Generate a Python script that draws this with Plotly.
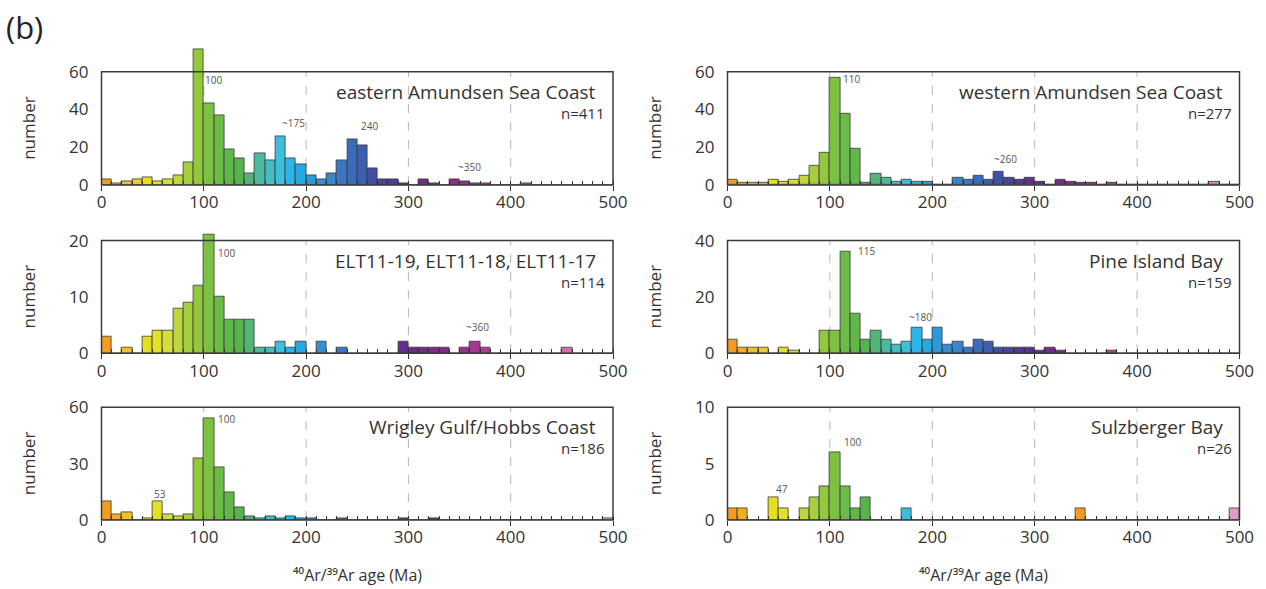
import plotly.graph_objects as go

# ---------------- data (10 Ma bins, 0-500 Ma) ----------------
bin_starts = list(range(0, 500, 10))

east_amundsen = [3, 1, 2, 3, 4, 2, 3, 5, 12, 72,
                 43, 37, 19, 14, 6, 17, 13, 26, 14, 11,
                 5, 3, 6, 13, 24, 21, 9, 3, 3, 1,
                 0, 3, 1, 0, 3, 2, 1, 1, 0, 0,
                 0, 1, 0, 0, 0, 0, 0, 0, 0, 0]
west_amundsen = [3, 1, 1, 1, 3, 2, 3, 5, 10, 17,
                 57, 38, 19, 1, 6, 4, 2, 3, 2, 2,
                 0, 0, 4, 3, 5, 3, 7, 4, 3, 4,
                 2, 0, 3, 2, 1, 1, 0, 1, 0, 0,
                 0, 0, 0, 0, 0, 0, 0, 2, 0, 0]
elt11 = [3, 0, 1, 0, 3, 4, 4, 8, 9, 12,
         21, 10, 6, 6, 6, 1, 1, 2, 1, 2,
         0, 2, 0, 1, 0, 0, 0, 0, 0, 2,
         1, 1, 1, 1, 0, 1, 2, 1, 0, 0,
         0, 0, 0, 0, 0, 1, 0, 0, 0, 0]
pine_island = [5, 2, 2, 2, 0, 2, 1, 0, 0, 8,
               8, 36, 14, 5, 8, 5, 3, 4, 9, 5,
               9, 3, 4, 2, 5, 4, 2, 2, 2, 2,
               1, 2, 1, 0, 0, 0, 0, 1, 0, 0,
               0, 0, 0, 0, 0, 0, 0, 0, 0, 0]
wrigley = [10, 3, 4, 0, 1, 10, 3, 2, 3, 33,
           54, 28, 15, 7, 2, 1, 2, 1, 2, 1,
           1, 0, 0, 1, 0, 0, 0, 0, 0, 1,
           0, 0, 1, 0, 0, 0, 0, 0, 0, 0,
           0, 0, 0, 0, 0, 0, 0, 0, 0, 1]
sulzberger = [1, 1, 0, 0, 2, 1, 0, 1, 2, 3,
              6, 3, 1, 2, 0, 0, 0, 1, 0, 0,
              0, 0, 0, 0, 0, 0, 0, 0, 0, 0,
              0, 0, 0, 0, 1, 0, 0, 0, 0, 0,
              0, 0, 0, 0, 0, 0, 0, 0, 0, 1]

titles = ["eastern Amundsen Sea Coast", "western Amundsen Sea Coast",
          "ELT11-19, ELT11-18, ELT11-17", "Pine Island Bay",
          "Wrigley Gulf/Hobbs Coast", "Sulzberger Bay"]
n_labels = ["n=411", "n=277", "n=114", "n=159", "n=186", "n=26"]
frame_max = [60, 60, 20, 40, 60, 10]
ytick_sets = [[0, 20, 40, 60], [0, 20, 40, 60], [0, 10, 20],
              [0, 20, 40], [0, 30, 60], [0, 5, 10]]
peak_text = [["100", "~175", "240", "~350"], ["110", "~260"],
             ["100", "~360"], ["115", "~180"], ["53", "100"], ["47", "100"]]
peak_x = [[109, 188, 262, 360], [121, 271], [122, 368], [136, 188], [57, 122], [53, 122]]
peak_y = [[55.5, 33, 31, 9.4], [56.4, 13.7], [17.8, 4.6], [36.3, 12.7], [13.8, 53.8], [2.75, 6.9]]
xticks = [0, 100, 200, 300, 400, 500]
grid_x = [100, 200, 300, 400]
x_title = "⁴⁰Ar/³⁹Ar age (Ma)"

# ---------------- style ----------------
W, H = 1266, 589
def px(x): return x / W
def py(y): return 1 - y / H

color_stops = [
    (0, "#f39c1f"), (10, "#f3ad25"), (20, "#efc22a"), (30, "#eacf2a"), (40, "#e6df1e"),
    (50, "#e3e226"), (60, "#d2de3a"), (70, "#bdd73c"), (80, "#a6cf3d"), (90, "#93c83d"),
    (100, "#7cc142"), (110, "#6bbc46"), (120, "#60b848"), (130, "#57b34b"), (140, "#52b478"),
    (150, "#4cb9a2"), (160, "#45bdc2"), (170, "#3cbedd"), (180, "#2cb5e8"), (190, "#25a8e1"),
    (200, "#2b9ad8"), (210, "#3490d2"), (220, "#3a86cc"), (230, "#3b78c4"), (240, "#3b6cbb"),
    (250, "#3c60b0"), (260, "#4050a4"), (270, "#4c449c"), (280, "#583a96"), (290, "#622f91"),
    (300, "#6c2a8e"), (340, "#8e2b8b"), (380, "#b8449c"), (450, "#d070b0"), (490, "#e39ac6"),
]

def hex2rgb(h):
    h = h.lstrip("#")
    return tuple(int(h[i:i + 2], 16) for i in (0, 2, 4))

def color_at(age):
    for (a0, c0), (a1, c1) in zip(color_stops[:-1], color_stops[1:]):
        if a0 <= age <= a1:
            t = (age - a0) / (a1 - a0) if a1 > a0 else 0
            r0, g0, b0 = hex2rgb(c0); r1, g1, b1 = hex2rgb(c1)
            return "rgb(%d,%d,%d)" % (r0 + t * (r1 - r0), g0 + t * (g1 - g0), b0 + t * (b1 - b0))
    return color_stops[-1][1]

base_colors = [color_at(s) for s in bin_starts]

series = [east_amundsen, west_amundsen, elt11, pine_island, wrigley, sulzberger]
# panel boxes in pixels: (x_left, x_right) and (y_top_of_frame, y_bottom)
col_px = [(101.5, 613.0), (727.5, 1239.5)]
row_px = [(71.7, 185.0), (240.6, 353.2), (407.3, 520.0)]

FONT = "Open Sans"
DARK = "#333333"

fig = go.Figure()
shapes, annotations = [], []

for i, counts in enumerate(series):
    r, c = divmod(i, 2)
    xl, xr = col_px[c]
    yt, yb = row_px[r]
    fmax = frame_max[i]
    yext = max(fmax, max(counts) * 1.02)
    top_px = yb - (yext / fmax) * (yb - yt)
    xa = "xaxis" if i == 0 else "xaxis%d" % (i + 1)
    ya = "yaxis" if i == 0 else "yaxis%d" % (i + 1)
    xr_ = "x" if i == 0 else "x%d" % (i + 1)
    yr_ = "y" if i == 0 else "y%d" % (i + 1)

    cols = list(base_colors)
    if i == 5:
        cols[34] = base_colors[0]  # orange grain at 340-350 Ma

    fig.add_trace(go.Bar(
        x=[s + 5 for s in bin_starts], y=counts, width=10,
        marker=dict(color=cols, line=dict(color="#3a3a3a", width=0.8)),
        xaxis=xr_, yaxis=yr_, showlegend=False, hoverinfo="x+y",
    ))

    fig.layout[xa] = dict(
        domain=[px(xl), px(xr)], range=[0, 500], anchor=yr_, automargin=False,
        tickvals=xticks, ticks="outside", ticklen=5, tickwidth=1.2, tickcolor=DARK,
        minor=dict(dtick=10, ticks="inside", ticklen=4, tickwidth=1, tickcolor=DARK),
        showgrid=False, zeroline=False, showline=False, ticklabelstandoff=-3,
        tickfont=dict(family=FONT, size=17, color=DARK),
        fixedrange=True,
    )
    fig.layout[ya] = dict(
        domain=[py(yb), py(top_px)], range=[0, yext], anchor=xr_, automargin=False,
        tickvals=ytick_sets[i], ticks="", showgrid=False, zeroline=False, showline=False,
        tickfont=dict(family=FONT, size=17, color=DARK), ticklabelstandoff=12,
        fixedrange=True,
    )

    for gx in grid_x:
        shapes.append(dict(type="line", xref=xr_, yref=yr_, x0=gx, x1=gx, y0=0, y1=fmax,
                           line=dict(color="#b5b5b5", width=1, dash="dash"), layer="below"))
    shapes.append(dict(type="rect", xref="paper", yref="paper",
                       x0=px(xl), x1=px(xr), y0=py(yb), y1=py(yt),
                       line=dict(color="#3a3a3a", width=1.5), layer="above"))

    # panel title and n
    annotations.append(dict(text=titles[i], xref="paper", yref="paper",
                            x=px(xr - 15), y=py(yt + 20), xanchor="right", yanchor="middle",
                            showarrow=False, font=dict(family=FONT, size=19, color=DARK)))
    annotations.append(dict(text=n_labels[i], xref="paper", yref="paper",
                            x=px(xr - 6), y=py(yt + 41), xanchor="right", yanchor="middle",
                            showarrow=False, font=dict(family=FONT, size=15, color=DARK)))
    for t, xx, yy in zip(peak_text[i], peak_x[i], peak_y[i]):
        annotations.append(dict(text=t, xref=xr_, yref=yr_, x=xx, y=yy,
                                xanchor="center", yanchor="middle", showarrow=False,
                                font=dict(family=FONT, size=10, color="#555555")))
    # y-axis label
    annotations.append(dict(text="number", xref="paper", yref="paper",
                            x=px(xl - 73), y=py((yt + yb) / 2), xanchor="center", yanchor="middle",
                            textangle=-90, showarrow=False,
                            font=dict(family=FONT, size=17, color=DARK)))

for c in range(2):
    xl, xr = col_px[c]
    annotations.append(dict(text=x_title, xref="paper", yref="paper",
                            x=px((xl + xr) / 2), y=py(575), xanchor="center", yanchor="middle",
                            showarrow=False, font=dict(family=FONT, size=16, color=DARK)))

annotations.append(dict(text="(b)", xref="paper", yref="paper", x=px(4), y=py(27),
                        xanchor="left", yanchor="middle", showarrow=False,
                        font=dict(family=FONT, size=31, color="#222222")))

fig.update_layout(
    template="none",
    width=W, height=H, margin=dict(l=0, r=0, t=0, b=0, pad=0),
    paper_bgcolor="white", plot_bgcolor="rgba(0,0,0,0)",
    bargap=0, shapes=shapes, annotations=annotations,
    font=dict(family=FONT, color=DARK),
)

fig.write_html("out.html")
